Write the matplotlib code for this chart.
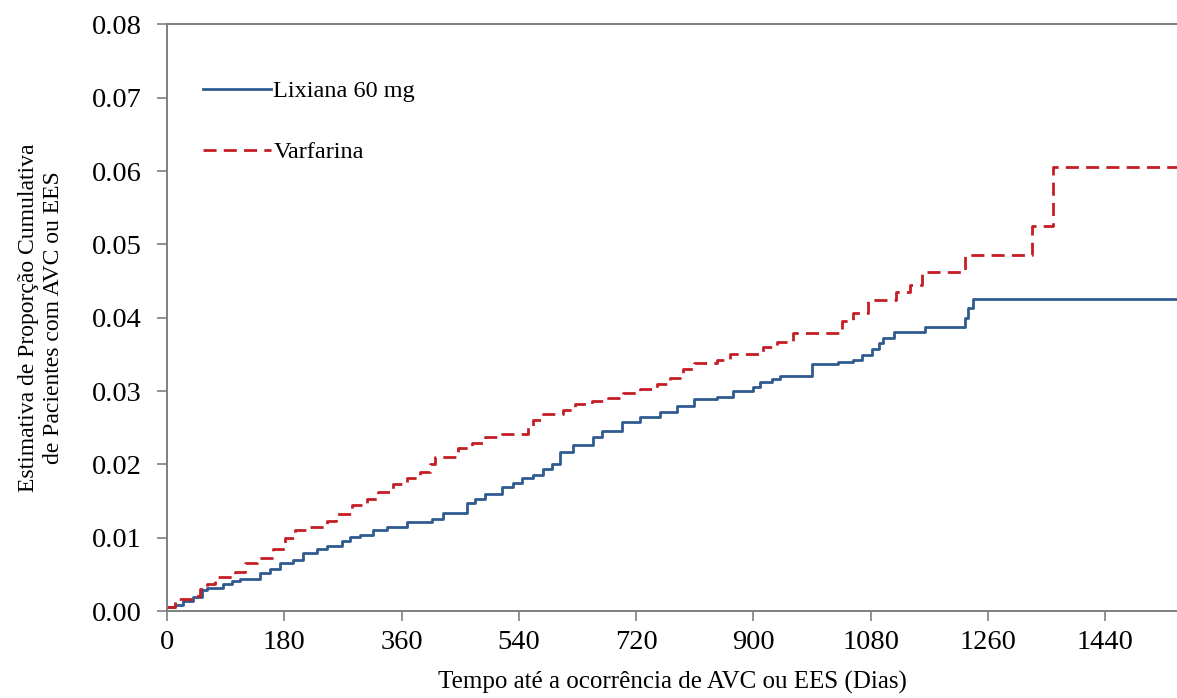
"""
Cumulative incidence of stroke / systemic embolism: Lixiana 60 mg vs Varfarina.
"""

import matplotlib

matplotlib.use("Agg")
import matplotlib.pyplot as plt

# Step change points (day, cumulative proportion after the step)
LIXIANA_DAYS = [
    0, 12, 25, 40, 53, 62, 86, 99, 112, 143, 158, 173, 194, 209, 230, 245,
    268, 281, 296, 316, 337, 368, 406, 424, 460, 473, 488, 514, 531, 545,
    562, 577, 591, 603, 623, 654, 668, 698, 726, 757, 783, 808, 844, 869,
    900, 910, 929, 941, 990, 1029, 1053, 1067, 1082, 1092, 1099, 1115,
    1164, 1225, 1230, 1237, 1550,
]
LIXIANA_PROP = [
    0.0005, 0.0008, 0.0014, 0.0019, 0.0029, 0.0032, 0.0037, 0.0041, 0.0044,
    0.0052, 0.0058, 0.0065, 0.0069, 0.0079, 0.0085, 0.0089, 0.0095, 0.0101,
    0.0104, 0.0110, 0.0115, 0.0121, 0.0126, 0.0134, 0.0147, 0.0153, 0.0160,
    0.0169, 0.0174, 0.0181, 0.0185, 0.0194, 0.0201, 0.0217, 0.0226, 0.0237,
    0.0246, 0.0258, 0.0264, 0.0271, 0.0279, 0.0289, 0.0292, 0.0300, 0.0305,
    0.0312, 0.0317, 0.0321, 0.0337, 0.0340, 0.0343, 0.0349, 0.0358, 0.0365,
    0.0373, 0.0380, 0.0387, 0.0399, 0.0413, 0.0425, 0.0425,
]

VARFARINA_DAYS = [
    0, 12, 38, 51, 61, 74, 104, 120, 138, 163, 181, 196, 214, 245, 260, 284,
    307, 324, 347, 368, 388, 404, 411, 447, 468, 488, 514, 554, 562, 577,
    608, 626, 652, 677, 700, 726, 752, 772, 792, 808, 844, 864, 915, 936,
    961, 1036, 1052, 1076, 1118, 1141, 1159, 1225, 1327, 1360, 1550,
]
VARFARINA_PROP = [
    0.0005, 0.0017, 0.0021, 0.0030, 0.0037, 0.0046, 0.0053, 0.0065, 0.0073,
    0.0085, 0.0099, 0.0110, 0.0115, 0.0123, 0.0133, 0.0144, 0.0153, 0.0162,
    0.0173, 0.0181, 0.0189, 0.0201, 0.0210, 0.0222, 0.0229, 0.0237, 0.0242,
    0.0251, 0.0260, 0.0269, 0.0274, 0.0282, 0.0286, 0.0291, 0.0297, 0.0303,
    0.0309, 0.0318, 0.0330, 0.0338, 0.0342, 0.0351, 0.0360, 0.0367, 0.0379,
    0.0396, 0.0406, 0.0424, 0.0435, 0.0444, 0.0462, 0.0485, 0.0525, 0.0605,
    0.0605,
]

X_TICKS = [0, 180, 360, 540, 720, 900, 1080, 1260, 1440]
Y_TICKS = [0.00, 0.01, 0.02, 0.03, 0.04, 0.05, 0.06, 0.07, 0.08]

LIXIANA_LABEL = "Lixiana 60 mg"
VARFARINA_LABEL = "Varfarina"
X_LABEL = "Tempo até a ocorrência de AVC ou EES (Dias)"
Y_LABEL = "Estimativa de Proporção Cumulativa\nde Pacientes com AVC ou EES"

BLUE = "#2f5b8e"
RED = "#c41e24"
SPINE = "#7f7f7f"

plt.rcParams["font.family"] = ["Liberation Serif", "DejaVu Serif"]


def main() -> None:
    fig = plt.figure(figsize=(11.77, 6.98), dpi=100)
    ax = fig.add_axes([0.1419, 0.1246, 0.8581, 0.8404])

    ax.plot(LIXIANA_DAYS, LIXIANA_PROP, drawstyle="steps-post", color=BLUE,
            linewidth=2.0, label=LIXIANA_LABEL)
    ax.plot(VARFARINA_DAYS, VARFARINA_PROP, drawstyle="steps-post", color=RED,
            linewidth=2.0, linestyle=(0, (4.7, 2.6)), label=VARFARINA_LABEL)

    ax.set_xlim(0, 1550)
    ax.set_ylim(0, 0.08)
    ax.set_xticks(X_TICKS)
    ax.set_yticks(Y_TICKS)
    ax.set_yticklabels([f"{v:.2f}" for v in Y_TICKS])

    for side in ("left", "bottom", "top"):
        ax.spines[side].set_color(SPINE)
        ax.spines[side].set_linewidth(1.4)
    ax.spines["right"].set_visible(False)
    ax.tick_params(direction="out", length=7, width=1.2, color=SPINE,
                   labelsize=20.5)
    ax.tick_params(axis="y", pad=11)
    ax.tick_params(axis="x", pad=7)

    ax.set_xlabel(X_LABEL, fontsize=18, labelpad=11)
    ax.set_ylabel(Y_LABEL, fontsize=17, labelpad=20, linespacing=1.25)

    ax.legend(loc="upper left", bbox_to_anchor=(0.0356, 0.905), frameon=False,
              fontsize=17.5, handlelength=2.8, handletextpad=0.1,
              labelspacing=1.6, borderpad=0, borderaxespad=0)

    fig.savefig("out.png", dpi=100)


if __name__ == "__main__":
    main()
